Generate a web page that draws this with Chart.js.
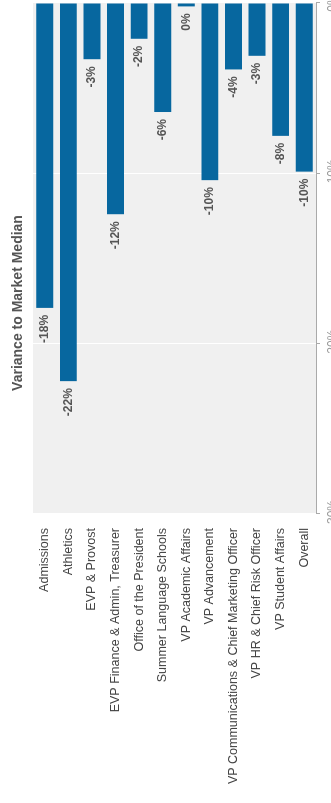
<!DOCTYPE html>
<html>
<head>
<meta charset="utf-8">
<title>Variance to Market Median</title>
<script src="https://cdn.jsdelivr.net/npm/chart.js@4/dist/chart.umd.min.js"></script>
<style>
  html, body { margin: 0; padding: 0; background: #fff; width: 331px; height: 803px; overflow: hidden; }
  /* the chart is drawn landscape and turned a quarter turn, like the source picture */
  #wrap { position: absolute; left: 0; top: 803px; width: 830px; height: 345px;
          transform-origin: 0 0; transform: rotate(-90deg); }
</style>
</head>
<body>
<div id="wrap"><canvas id="varianceChart" width="830" height="345"></canvas></div>
<script>
// --- data ---
const departments = [
  "Admissions",
  "Athletics",
  "EVP & Provost",
  "EVP Finance & Admin, Treasurer",
  "Office of the President",
  "Summer Language Schools",
  "VP Academic Affairs",
  "VP Advancement",
  "VP Communications & Chief Marketing Officer",
  "VP HR & Chief Risk Officer",
  "VP Student Affairs",
  "Overall"
];
const varianceValues = [-17.9, -22.2, -3.3, -12.4, -2.1, -6.4, -0.2, -10.4, -3.9, -3.1, -7.8, -9.9];
const axisTicks = [-30, -20, -10, 0];
const chartTitle = "Variance to Market Median";

const FONT = "'Liberation Sans', Arial, sans-serif";
const BAR_BLUE = "#07679f";

// grey plot background
const plotBackground = {
  id: "plotBackground",
  beforeDraw(chart) {
    const { ctx, chartArea: a } = chart;
    ctx.save();
    ctx.fillStyle = "#f0f0f0";
    ctx.fillRect(a.left, a.top, a.right - a.left, a.bottom - a.top);
    ctx.restore();
  }
};

// value labels just past the end of each bar
const barLabels = {
  id: "barLabels",
  afterDatasetsDraw(chart) {
    const { ctx } = chart;
    const meta = chart.getDatasetMeta(0);
    ctx.save();
    ctx.font = "bold 12px " + FONT;
    ctx.fillStyle = "#555";
    ctx.textAlign = "right";
    ctx.textBaseline = "middle";
    meta.data.forEach((bar, i) => {
      const v = Math.round(varianceValues[i]);
      ctx.fillText(String(v) + "%", Math.min(bar.x, bar.base) - 7, bar.y);
    });
    ctx.restore();
  }
};

// title sits off-centre in the source, so it is drawn here
const offsetTitle = {
  id: "offsetTitle",
  afterDraw(chart) {
    const { ctx, chartArea: a } = chart;
    ctx.save();
    ctx.font = "bold 14px " + FONT;
    ctx.fillStyle = "#555";
    ctx.textAlign = "center";
    ctx.textBaseline = "middle";
    ctx.fillText(chartTitle, a.left + 211, 18);
    ctx.restore();
  }
};

const ctx = document.getElementById("varianceChart").getContext("2d");

new Chart(ctx, {
  type: "bar",
  data: {
    labels: departments,
    datasets: [{
      label: chartTitle,
      data: varianceValues,
      backgroundColor: BAR_BLUE,
      borderWidth: 0
    }]
  },
  options: {
    indexAxis: "y",
    responsive: false,
    animation: false,
    devicePixelRatio: 1,
    layout: { padding: { top: 33, right: 30, left: 0, bottom: 0 } },
    plugins: {
      legend: { display: false },
      title: { display: false },
      tooltip: { enabled: false }
    },
    scales: {
      x: {
        min: axisTicks[0],
        max: axisTicks[axisTicks.length - 1],
        afterBuildTicks(scale) {
          scale.ticks = axisTicks.map(v => ({ value: v }));
        },
        afterFit(scale) { scale.height = 29; },
        ticks: {
          callback: v => v + "%",
          color: "#999",
          font: { family: FONT, size: 12 },
          padding: 5,
          maxRotation: 0
        },
        grid: { color: "#fff", lineWidth: 1, tickColor: "#aaa", tickLength: 4 },
        border: { display: true, color: "#aaa" }
      },
      y: {
        afterFit(scale) { scale.width = 289; },
        ticks: {
          color: "#444",
          font: { family: FONT, size: 12.5 },
          padding: 14,
          autoSkip: false
        },
        grid: { display: false, drawTicks: false },
        border: { display: false }
      }
    }
  },
  plugins: [plotBackground, barLabels, offsetTitle]
});
</script>
</body>
</html>
